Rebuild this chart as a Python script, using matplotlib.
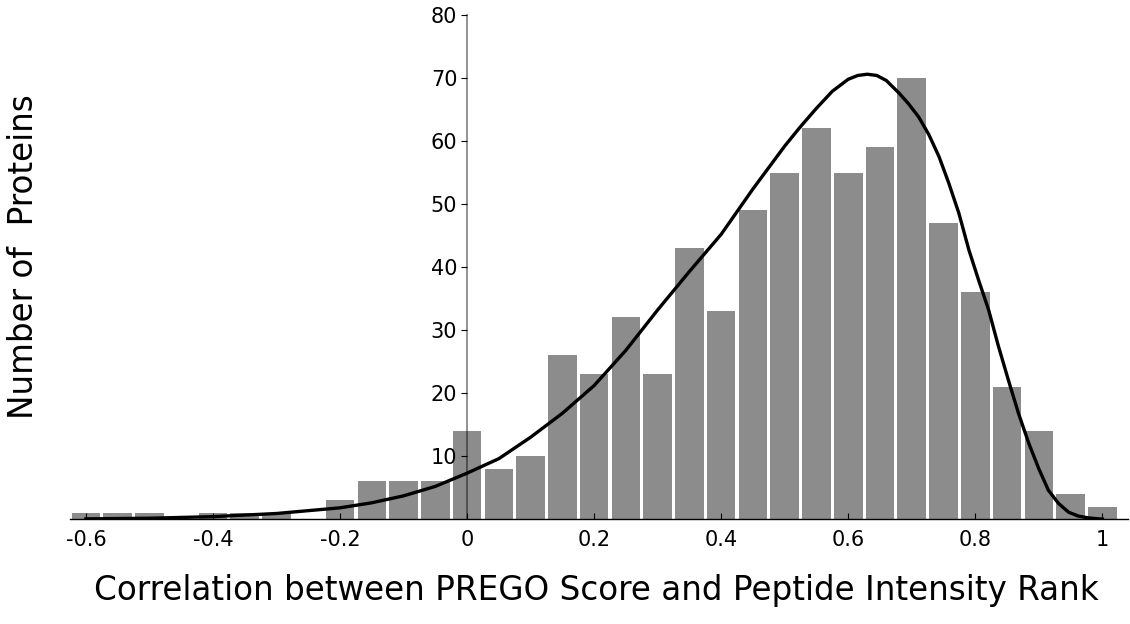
import matplotlib

matplotlib.use("Agg")
import matplotlib.pyplot as plt

plt.rcParams["axes.unicode_minus"] = False
plt.rcParams["font.family"] = ["DejaVu Sans"]

# histogram bins (centres) and counts
bin_centers = [
    -0.60, -0.55, -0.50, -0.45, -0.40, -0.35, -0.30, -0.25, -0.20, -0.15,
    -0.10, -0.05, 0.00, 0.05, 0.10, 0.15, 0.20, 0.25, 0.30, 0.35,
    0.40, 0.45, 0.50, 0.55, 0.60, 0.65, 0.70, 0.75, 0.80, 0.85,
    0.90, 0.95, 1.00,
]
counts = [
    1, 1, 1, 0, 1, 1, 1, 0, 3, 6,
    6, 6, 14, 8, 10, 26, 23, 32, 23, 43,
    33, 49, 55, 62, 55, 59, 70, 47, 36, 21,
    14, 4, 2,
]

# fitted density curve
curve_x = [
    -0.60, -0.50, -0.40, -0.30, -0.20, -0.15, -0.10, -0.05, 0.00, 0.05,
    0.10, 0.15, 0.20, 0.25, 0.30, 0.35, 0.40, 0.45, 0.50, 0.525,
    0.55, 0.575, 0.60, 0.615, 0.63, 0.645, 0.66, 0.68, 0.695, 0.711,
    0.727, 0.743, 0.758, 0.774, 0.79, 0.805, 0.821, 0.836, 0.852, 0.868,
    0.884, 0.90, 0.915, 0.931, 0.947, 0.962, 0.978, 1.00,
]
curve_y = [
    0.05, 0.15, 0.4, 0.9, 1.8, 2.6, 3.7, 5.2, 7.3, 9.6,
    13.0, 16.8, 21.2, 26.8, 33.2, 39.3, 45.2, 52.4, 59.2, 62.3,
    65.2, 67.9, 69.8, 70.4, 70.6, 70.4, 69.6, 67.6, 65.9, 63.8,
    61.0, 57.5, 53.4, 48.6, 42.7, 38.0, 33.2, 27.6, 22.1, 16.8,
    12.1, 8.0, 4.6, 2.5, 1.1, 0.5, 0.2, 0.0,
]

x_ticks = [-0.6, -0.4, -0.2, 0, 0.2, 0.4, 0.6, 0.8, 1]
x_tick_labels = ["-0.6", "-0.4", "-0.2", "0", "0.2", "0.4", "0.6", "0.8", "1"]
y_ticks = [10, 20, 30, 40, 50, 60, 70, 80]

fig = plt.figure(figsize=(11.3, 6.24), dpi=100)
ax = fig.add_axes([0.062, 0.168, 0.936, 0.808])

ax.bar(bin_centers, counts, width=0.045, color="#8c8c8c", zorder=1)
ax.plot(curve_x, curve_y, color="black", linewidth=2.4, zorder=3,
        solid_joinstyle="round")

ax.set_xlim(-0.625, 1.04)
ax.set_ylim(0, 80)

ax.spines["top"].set_visible(False)
ax.spines["right"].set_visible(False)
ax.spines["left"].set_position(("data", 0))
ax.spines["left"].set_color("black")
ax.spines["left"].set_alpha(0.5)
ax.spines["left"].set_linewidth(1.2)
ax.spines["bottom"].set_linewidth(1.0)

ax.set_xticks(x_ticks)
ax.set_xticklabels(x_tick_labels)
ax.set_yticks(y_ticks)
ax.tick_params(axis="x", direction="in", length=4, labelsize=15, pad=8)
ax.tick_params(axis="y", direction="out", length=4, labelsize=15, pad=3)

ax.set_xlabel("Correlation between PREGO Score and Peptide Intensity Rank", fontsize=23.5)
ax.xaxis.set_label_coords(0.498, -0.108)
ax.set_ylabel("Number of  Proteins", fontsize=23.5)
ax.yaxis.set_label_coords(-0.028, 0.52)

fig.savefig("out.png", dpi=100)
plt.close(fig)
